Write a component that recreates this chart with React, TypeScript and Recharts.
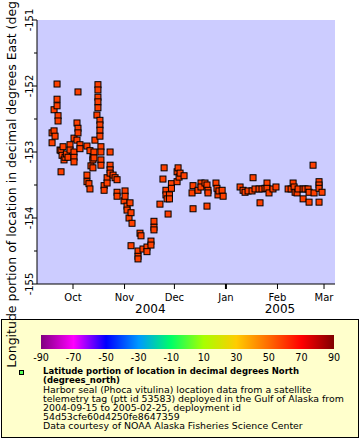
import React from 'react';
import { ScatterChart, Scatter, XAxis, YAxis, CartesianGrid } from 'recharts';

const FONT = '"DejaVu Sans", Verdana, sans-serif';

// Days since deployment start (2004-09-15) and longitude (degrees East)
const deploymentDay = [
  3.4, 3.4, 4.6, 4.6, 5.2, 6.4, 6.4, 6.4, 7.0, 7.0, 8.2, 8.8, 8.8, 9.4, 10.0, 10.6, 11.2, 12.0, 13.0, 14.2,
  14.2, 16.6, 16.6, 16.6, 16.6, 18.4, 18.4, 19.0, 19.0, 19.0, 20.2, 20.2, 24.4, 24.4, 24.4, 25.6, 26.2, 26.2, 26.8, 28.0,
  28.0, 28.0, 28.6, 28.6, 29.2, 30.4, 31.0, 31.0, 31.0, 31.0, 31.0, 32.2, 32.2, 32.2, 32.2, 32.8, 32.8, 32.8, 32.8, 34.7,
  34.7, 36.5, 36.5, 38.3, 38.3, 38.3, 38.3, 40.1, 41.3, 42.5, 42.5, 42.5, 46.7, 47.3, 47.3, 48.5, 48.5, 49.7, 50.3, 50.9,
  50.9, 51.5, 55.1, 55.1, 55.1, 56.3, 56.9, 58.1, 60.5, 60.5, 62.9, 62.9, 64.7, 64.7, 64.7, 68.3, 70.1, 70.8, 71.9, 71.9,
  72.6, 73.2, 74.0, 74.0, 75.2, 75.2, 78.6, 78.6, 79.2, 79.8, 80.4, 82.8, 87.6, 88.2, 88.2, 91.2, 93.0, 93.0, 95.4, 96.6,
  96.6, 97.2, 97.2, 102.0, 102.6, 103.2, 103.8, 105.7, 106.3, 116.5, 118.3, 119.5, 121.3, 123.7, 124.3, 125.5, 127.9, 128.5, 129.7, 131.5,
  132.7, 132.7, 133.9, 136.3, 138.1, 145.4, 147.2, 148.4, 149.0, 149.6, 150.8, 151.4, 154.4, 154.4, 155.6, 157.4, 158.0, 158.0, 160.4, 161.0,
  164.0, 164.0, 164.0, 164.0, 165.8,
];
const longitudeEast = [
  -152.86, -152.71, -152.68, -152.36, -152.76, -152.30, -152.20, -151.97, -152.45, -152.53, -152.97, -153.30, -152.98, -153.05, -152.92, -153.12, -153.08, -153.03, -153.08, -152.89,
  -152.97, -152.79, -153.00, -153.08, -153.15, -152.82, -152.56, -152.64, -152.71, -152.09, -152.89, -152.95, -152.91, -153.35, -153.45, -153.48, -153.56, -152.98, -153.21, -153.24,
  -153.08, -153.12, -153.00, -153.09, -152.82, -152.44, -151.98, -152.06, -152.17, -152.24, -152.33, -152.52, -152.59, -152.67, -152.76, -152.92, -153.00, -153.12, -153.20, -153.51,
  -153.58, -153.39, -153.47, -153.00, -153.20, -153.27, -153.32, -153.35, -153.39, -153.42, -153.61, -153.67, -153.74, -153.59, -153.67, -153.82, -153.88, -154.00, -153.77, -153.92,
  -154.42, -154.08, -154.50, -154.58, -154.62, -154.23, -154.27, -154.47, -154.44, -154.51, -154.35, -154.41, -154.05, -154.14, -154.18, -153.79, -153.41, -153.24, -153.58, -153.65,
  -153.71, -153.94, -153.65, -153.71, -153.48, -153.55, -153.30, -153.45, -153.24, -153.38, -153.32, -153.36, -153.62, -153.51, -153.86, -153.58, -153.47, -153.53, -153.47, -153.50,
  -153.82, -153.58, -153.62, -153.47, -153.55, -153.65, -153.59, -153.58, -153.67, -153.53, -153.58, -153.61, -153.59, -153.59, -153.39, -153.56, -153.56, -153.77, -153.56, -153.55,
  -153.47, -153.55, -153.62, -153.56, -153.53, -153.56, -153.56, -153.47, -153.53, -153.61, -153.62, -153.56, -153.56, -153.71, -153.56, -153.56, -153.61, -153.76, -153.20, -153.62,
  -153.45, -153.50, -153.55, -153.76, -153.61,
];

const monthTickDays = [16, 47, 77, 108, 139, 167];
const monthTickLabels = ['Oct', 'Nov', 'Dec', 'Jan', 'Feb', 'Mar'];
const yearTickDays = [62.5, 140.5];
const yearTickLabels = ['2004', '2005'];
const lonTicks = [-155, -154.5, -154, -153.5, -153, -152.5, -152, -151.5, -151];
const dayDomain = [-5.66, 173.6];
const lonDomain = [-155, -151];

const colorbarLabels = ['-90', '-70', '-50', '-30', '-10', '10', '30', '50', '70', '90'];
const colorbarColors = ['#800080', '#ff00ff', '#0000ff', '#0099ff', '#00ff66', '#a8ff00', '#ffcc00', '#ff6a00', '#ff0000', '#800000'];

const yTitle = 'Longitude portion of location in decimal degrees East (degrees_east)';
const legendTitle = ['Latitude portion of location in decimal degrees North', '(degrees_north)'];
const legendLines = [
  'Harbor seal (Phoca vitulina) location data from a satellite',
  'telemetry tag (ptt id 53583) deployed in the Gulf of Alaska from',
  '2004-09-15 to 2005-02-25, deployment id',
  '54d53cfe60d4250fe8647359',
  'Data courtesy of NOAA Alaska Fisheries Science Center',
];

const data = deploymentDay.map((d, i) => ({ day: d, lon: longitudeEast[i] }));
const allXTicks = [...monthTickDays, ...yearTickDays];

const TimeTick = (p: any) => {
  const { x, y, payload } = p;
  const mIdx = monthTickDays.indexOf(payload.value);
  if (mIdx >= 0) {
    const label = monthTickLabels[mIdx];
    return (
      <g>
        <line x1={x} x2={x} y1={y} y2={y + 5} stroke="#000" strokeWidth={label === 'Jan' ? 2 : 1} />
        <text x={x} y={y + 17} textAnchor="middle" fontSize={10} fontFamily={FONT} fill="#000">{label}</text>
      </g>
    );
  }
  const yIdx = yearTickDays.indexOf(payload.value);
  return (
    <text x={x} y={y + 29} textAnchor="middle" fontSize={12} fontFamily={FONT} fill="#000">{yearTickLabels[yIdx]}</text>
  );
};

const LonTick = (p: any) => {
  const { x, y, payload } = p;
  const v = payload.value;
  const major = Number.isInteger(v);
  const tx = x - 4.5;
  return (
    <g>
      <line x1={x - (major ? 5 : 3)} x2={x} y1={y} y2={y} stroke="#000" />
      {major && (
        <text x={tx} y={y} transform={`rotate(-90 ${tx} ${y})`} textAnchor="middle" fontSize={10} fontFamily={FONT} fill="#000">
          {String(v)}
        </text>
      )}
    </g>
  );
};

const YTitle = (p: any) => {
  const vb = p.viewBox || { x: 0, y: 20, width: 37, height: 264 };
  const cy = vb.y + vb.height / 2;
  const x = vb.x + 16;
  return (
    <text x={x} y={cy} transform={`rotate(-90 ${x} ${cy})`} textAnchor="middle" fontSize={12.5} fontFamily={FONT} fill="#000">
      {yTitle}
    </text>
  );
};

const SquareMark = (p: any) => {
  const { cx, cy } = p;
  if (cx == null || cy == null) return null;
  return <rect x={cx - 3} y={cy - 3} width={6} height={6} fill="#ff4000" stroke="#000" strokeWidth={1} />;
};

export default function App() {
  const gradient = `linear-gradient(to right, ${colorbarColors
    .map((c, i) => `${c} ${(i * 100) / (colorbarColors.length - 1)}%`)
    .join(', ')})`;
  const cbLeft = 41;
  const cbWidth = 293;
  return (
    <div style={{ position: 'absolute', left: 0, top: 0, width: 360, height: 440, background: '#fff', fontFamily: FONT }}>
      {/* legend box (beneath the chart svg so the axis title overlaps it) */}
      <div
        style={{
          position: 'absolute', left: 1, top: 319, width: 358, height: 119, boxSizing: 'border-box',
          border: '1px solid #000', background: '#ffffcc', zIndex: 0,
        }}
      />
      <div style={{ position: 'absolute', left: cbLeft, top: 335, width: cbWidth, height: 14, background: gradient, zIndex: 0 }} />
      {colorbarLabels.map((l, i) => (
        <div
          key={l}
          style={{
            position: 'absolute', left: cbLeft + (i * cbWidth) / (colorbarLabels.length - 1), top: 352.5,
            transform: 'translateX(-50%)', fontSize: 9.6, lineHeight: '10px', whiteSpace: 'nowrap', color: '#000', zIndex: 0,
          }}
        >
          {l}
        </div>
      ))}
      <div
        style={{
          position: 'absolute', left: 19, top: 370, width: 5, height: 5, boxSizing: 'border-box',
          border: '1px solid #000', background: '#55ff55', zIndex: 0,
        }}
      />
      <div style={{ position: 'absolute', left: 43, top: 367, lineHeight: '9px', whiteSpace: 'pre', color: '#000', zIndex: 0 }}>
        {legendTitle.map((t) => (
          <div key={t} style={{ fontWeight: 'bold', fontSize: 8.5, height: 9 }}>{t}</div>
        ))}
        {legendLines.map((t) => (
          <div key={t} style={{ fontSize: 9.4, height: 9 }}>{t}</div>
        ))}
      </div>

      <div style={{ position: 'absolute', left: 0, top: 0, zIndex: 1 }}>
        <ScatterChart width={360} height={440} margin={{ top: 20, right: 25, bottom: 120, left: 0 }}>
          <CartesianGrid horizontal={false} vertical={false} fill="#ccccff" />
          <XAxis
            dataKey="day"
            type="number"
            domain={dayDomain}
            allowDataOverflow
            ticks={allXTicks}
            interval={0}
            height={36}
            tickSize={0}
            tickMargin={0}
            tickLine={false}
            axisLine={{ stroke: '#000' }}
            tick={TimeTick}
          />
          <XAxis
            xAxisId="top"
            orientation="top"
            type="number"
            domain={dayDomain}
            allowDataOverflow
            height={0}
            tick={false}
            tickLine={false}
            axisLine={{ stroke: '#000' }}
          />
          <YAxis
            dataKey="lon"
            type="number"
            domain={lonDomain}
            allowDataOverflow
            ticks={lonTicks}
            interval={0}
            width={37}
            tickSize={0}
            tickMargin={0}
            tickLine={false}
            axisLine={{ stroke: '#000' }}
            tick={LonTick}
            label={(p: any) => <YTitle {...p} />}
          />
          <YAxis
            yAxisId="right"
            orientation="right"
            type="number"
            domain={lonDomain}
            allowDataOverflow
            width={0}
            tick={false}
            tickLine={false}
            axisLine={{ stroke: '#000' }}
          />
          <Scatter data={data} isAnimationActive={false} shape={SquareMark} />
        </ScatterChart>
      </div>
    </div>
  );
}
